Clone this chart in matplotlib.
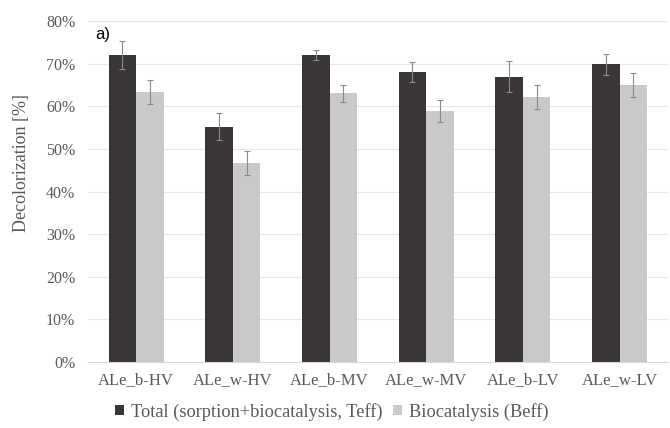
import matplotlib
matplotlib.use("Agg")
import matplotlib.pyplot as plt
import numpy as np
from matplotlib.ticker import FuncFormatter, MultipleLocator

categories = ["ALe_b-HV", "ALe_w-HV", "ALe_b-MV", "ALe_w-MV", "ALe_b-LV", "ALe_w-LV"]
total = [72.0, 55.2, 72.1, 68.0, 66.9, 69.8]
total_err = [3.2, 3.1, 1.2, 2.3, 3.6, 2.5]
bio = [63.4, 46.6, 63.1, 58.9, 62.1, 64.9]
bio_err = [2.8, 2.8, 2.0, 2.6, 2.8, 2.8]
series_labels = ["Total (sorption+biocatalysis, Teff)", "Biocatalysis (Beff)"]

serif = ["Liberation Serif", "DejaVu Serif"]
txt_col = "#595959"

fig = plt.figure(figsize=(6.7, 4.28), dpi=100)
ax = fig.add_axes([0.131, 0.154, 0.866, 0.797])

x = np.arange(len(categories))
w = 0.285
ek = dict(ecolor="#8a8a8a", elinewidth=0.8, capsize=2, capthick=0.8)
b1 = ax.bar(x - w/2, total, w, color="#3a3536", yerr=total_err, error_kw=ek,
            label=series_labels[0], zorder=2)
b2 = ax.bar(x + w/2, bio, w, color="#c9c9c9", yerr=bio_err, error_kw=ek,
            label=series_labels[1], zorder=2)

ax.set_ylim(0, 80)
ax.set_xlim(-0.5, len(categories) - 0.5)
ax.yaxis.set_major_locator(MultipleLocator(10))
ax.yaxis.set_major_formatter(FuncFormatter(lambda v, p: f"{int(v)}%"))
ax.grid(axis="y", color="#e6e6e6", linewidth=0.8, zorder=0)
ax.set_axisbelow(True)
for s in ["top", "right", "left"]:
    ax.spines[s].set_visible(False)
ax.spines["bottom"].set_color("#d9d9d9")
ax.tick_params(axis="both", length=0, colors=txt_col)
ax.set_xticks(x)
ax.set_xticklabels(categories, fontfamily=serif, fontsize=12, color=txt_col)
for t in ax.get_yticklabels():
    t.set_fontfamily(serif)
    t.set_fontsize(11.5)
    t.set_color(txt_col)
ax.tick_params(axis="x", pad=7)
ax.tick_params(axis="y", pad=9)
ax.set_ylabel("Decolorization [%]", fontfamily=serif, fontsize=13, color=txt_col)
ax.yaxis.set_label_coords(-0.099, 0.585)

ax.text(0.013, 0.96, "a)", transform=ax.transAxes, fontfamily=["Liberation Sans", "DejaVu Sans"],
        fontsize=12, color="black", va="center")

leg = fig.legend(handles=[b1, b2], labels=series_labels, loc="center", bbox_to_anchor=(0.495, 0.038),
                 ncol=2, frameon=False, handlelength=0.5, handleheight=0.5, handletextpad=0.35,
                 columnspacing=0.6, prop={"family": serif, "size": 13.2})
for t in leg.get_texts():
    t.set_color(txt_col)

fig.savefig("out.png", dpi=100)
